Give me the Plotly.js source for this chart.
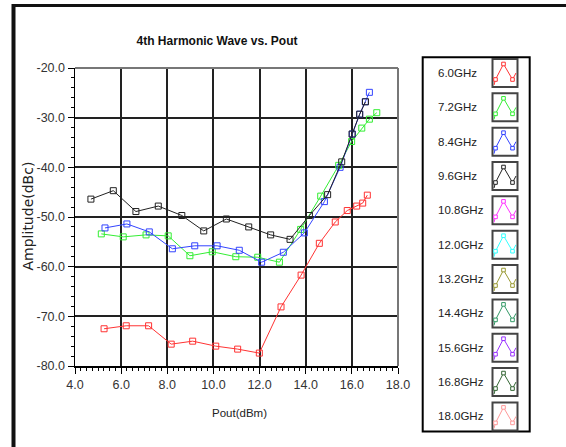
<!DOCTYPE html>
<html>
<head>
<meta charset="utf-8">
<script src="https://cdn.plot.ly/plotly-3.0.1.min.js"></script>
<style>html,body{margin:0;padding:0;background:#fff;}#chart{width:566px;height:447px;}</style>
</head>
<body>
<div id="chart"></div>
<script>
// ---- data ----
const legendNames = ["6.0GHz","7.2GHz","8.4GHz","9.6GHz","10.8GHz","12.0GHz","13.2GHz","14.4GHz","15.6GHz","16.8GHz","18.0GHz"];
const legendColors = ["#ff3333","#33ee33","#3344ff","#222222","#ff33ff","#33ffff","#999933","#339966","#9933ff","#336633","#ff9999"];

const xTickVals = [4, 6, 8, 10, 12, 14, 16, 18];
const xTickText = ["4.0","6.0","8.0","10.0","12.0","14.0","16.0","18.0"];
const yTickVals = [-80, -70, -60, -50, -40, -30, -20];
const yTickText = ["-80.0","-70.0","-60.0","-50.0","-40.0","-30.0","-20.0"];

const x6_0 = [5.26, 6.22, 7.19, 8.17, 9.10, 10.10, 11.05, 11.99, 12.93, 13.80, 14.59, 15.28, 15.80, 16.21, 16.47, 16.67];
const y6_0 = [-72.5, -71.9, -71.9, -75.6, -75.0, -76.0, -76.6, -77.4, -68.1, -61.7, -55.3, -51.0, -48.7, -47.8, -47.2, -45.6];

const x7_2 = [5.14, 6.09, 7.08, 8.04, 8.98, 9.95, 10.97, 11.92, 12.86, 13.78, 14.65, 15.43, 15.99, 16.43, 16.76, 17.08];
const y7_2 = [-53.4, -54.0, -53.6, -53.8, -57.8, -57.0, -58.0, -58.1, -59.1, -52.5, -45.8, -39.6, -34.8, -32.1, -30.3, -29.0];

const x8_4 = [5.30, 6.25, 7.22, 8.22, 9.19, 10.16, 11.12, 12.09, 13.03, 13.94, 14.81, 15.49, 16.02, 16.34, 16.58, 16.76];
const y8_4 = [-52.2, -51.4, -53.0, -56.4, -55.8, -55.8, -56.7, -59.1, -57.1, -53.2, -46.9, -40.0, -33.3, -29.3, -26.8, -24.9];

const x9_6 = [4.69, 5.66, 6.64, 7.61, 8.63, 9.58, 10.56, 11.53, 12.48, 13.32, 14.16, 14.95, 15.56, 16.01, 16.34, 16.59];
const y9_6 = [-46.4, -44.7, -48.9, -47.8, -49.7, -52.8, -50.4, -52.0, -53.6, -54.5, -49.7, -45.5, -38.9, -33.3, -29.3, -26.8];

const seriesX = [x6_0, x7_2, x8_4, x9_6];
const seriesY = [y6_0, y7_2, y8_4, y9_6];

// ---- geometry helpers (pixel -> paper) ----
const W = 566, H = 447, PL = 75, PR = 398, PT = 68, PB = 366;
const px = v => (v - PL) / (PR - PL);
const py = v => (PB - v) / (PB - PT);

const sans = "Liberation Sans, Arial, sans-serif";

const traces = seriesX.map((xs, i) => ({
  type: "scatter", mode: "lines+markers",
  x: xs, y: seriesY[i], name: legendNames[i],
  line: {color: legendColors[i], width: 1},
  marker: {symbol: "square-open", size: 6, color: legendColors[i], line: {width: 1, color: legendColors[i]}},
  showlegend: false, hoverinfo: "skip"
}));

const shapes = [];
const annotations = [];

// outer frame (top and left thick lines)
shapes.push({type:"line", xref:"paper", yref:"paper", x0:px(12), x1:px(566), y0:py(5.5), y1:py(5.5), line:{color:"#111", width:3}});
shapes.push({type:"line", xref:"paper", yref:"paper", x0:px(13.5), x1:px(13.5), y0:py(4), y1:py(447), line:{color:"#111", width:4}});

// plot border top/right (gray)
shapes.push({type:"line", xref:"paper", yref:"paper", x0:0, x1:1, y0:1, y1:1, line:{color:"#777", width:2}, layer:"above"});
shapes.push({type:"line", xref:"paper", yref:"paper", x0:1, x1:1, y0:0, y1:1, line:{color:"#777", width:2}, layer:"above"});

// legend box
shapes.push({type:"rect", xref:"paper", yref:"paper", x0:px(422.7), x1:px(529.7), y0:py(57.3), y1:py(431.5), line:{color:"#000", width:2}, fillcolor:"rgba(0,0,0,0)"});

const entryTop = 59, pitch = 34.34, bx0 = 492.5, bw = 25, bh = 28;
legendNames.forEach((nm, i) => {
  const top = entryTop + i * pitch;
  const c = legendColors[i];
  shapes.push({type:"rect", xref:"paper", yref:"paper", x0:px(bx0), x1:px(bx0+bw), y0:py(top), y1:py(top+bh), line:{color:"#444", width:2}, fillcolor:"#fff"});
  const pts = [[1.5,26],[3,20.5],[11,5],[20,20.5],[23.5,14]];
  let path = "";
  pts.forEach((p, k) => { path += (k ? " L " : "M ") + px(bx0+p[0]) + " " + py(top+p[1]); });
  shapes.push({type:"path", xref:"paper", yref:"paper", path: path, line:{color:c, width:1}});
  [[3,20.5],[11,5],[20,20.5]].forEach(p => {
    shapes.push({type:"rect", xref:"paper", yref:"paper", x0:px(bx0+p[0]-1.8), x1:px(bx0+p[0]+1.8), y0:py(top+p[1]-1.8), y1:py(top+p[1]+1.8), line:{color:c, width:1}, fillcolor:"#fff"});
  });
  annotations.push({xref:"paper", yref:"paper", x:px(436), y:py(top+14), xanchor:"left", yanchor:"middle", showarrow:false, text:nm, font:{family:sans, size:11.5, color:"#222"}});
});

// axis titles
annotations.push({xref:"paper", yref:"paper", x:px(27), y:py(216.5), xanchor:"center", yanchor:"middle", textangle:-90, showarrow:false, text:"Amplitude(dBc)", font:{family:"DejaVu Sans, sans-serif", size:14, color:"#222"}});
annotations.push({xref:"paper", yref:"paper", x:px(239.5), y:py(413), xanchor:"center", yanchor:"middle", showarrow:false, text:"Pout(dBm)", font:{family:sans, size:11.5, color:"#222"}});

const axisCommon = {
  ticks: "outside", ticklen: 6, tickwidth: 1, tickcolor: "#000",
  showline: true, linecolor: "#000", linewidth: 1.5,
  showgrid: true, gridcolor: "#222", gridwidth: 2, zeroline: false,
  tickfont: {family: sans, size: 12.5, color: "#333"}, fixedrange: true
};

const layout = {
  width: W, height: H, autosize: false,
  margin: {l: PL, r: W - PR, t: PT, b: H - PB, pad: 0},
  paper_bgcolor: "#fff", plot_bgcolor: "#fff",
  title: {text: "<b>4th Harmonic Wave vs. Pout</b>", xref: "container", yref: "container", x: 217 / W, y: 1 - 41 / H, xanchor: "center", yanchor: "middle", font: {family: sans, size: 12, color: "#111"}},
  xaxis: Object.assign({}, axisCommon, {
    range: [4, 18], tickmode: "array", tickvals: xTickVals, ticktext: xTickText,
    minor: {dtick: 0.25, tick0: 4, ticks: "outside", ticklen: 3, tickcolor: "#000", showgrid: false}
  }),
  yaxis: Object.assign({}, axisCommon, {
    range: [-80, -20], tickmode: "array", tickvals: yTickVals, ticktext: yTickText,
    minor: {dtick: 2, tick0: -80, ticks: "outside", ticklen: 3, tickcolor: "#000", showgrid: false}
  }),
  shapes: shapes,
  annotations: annotations,
  showlegend: false
};

Plotly.newPlot("chart", traces, layout, {displayModeBar: false, staticPlot: true});
</script>
</body>
</html>
